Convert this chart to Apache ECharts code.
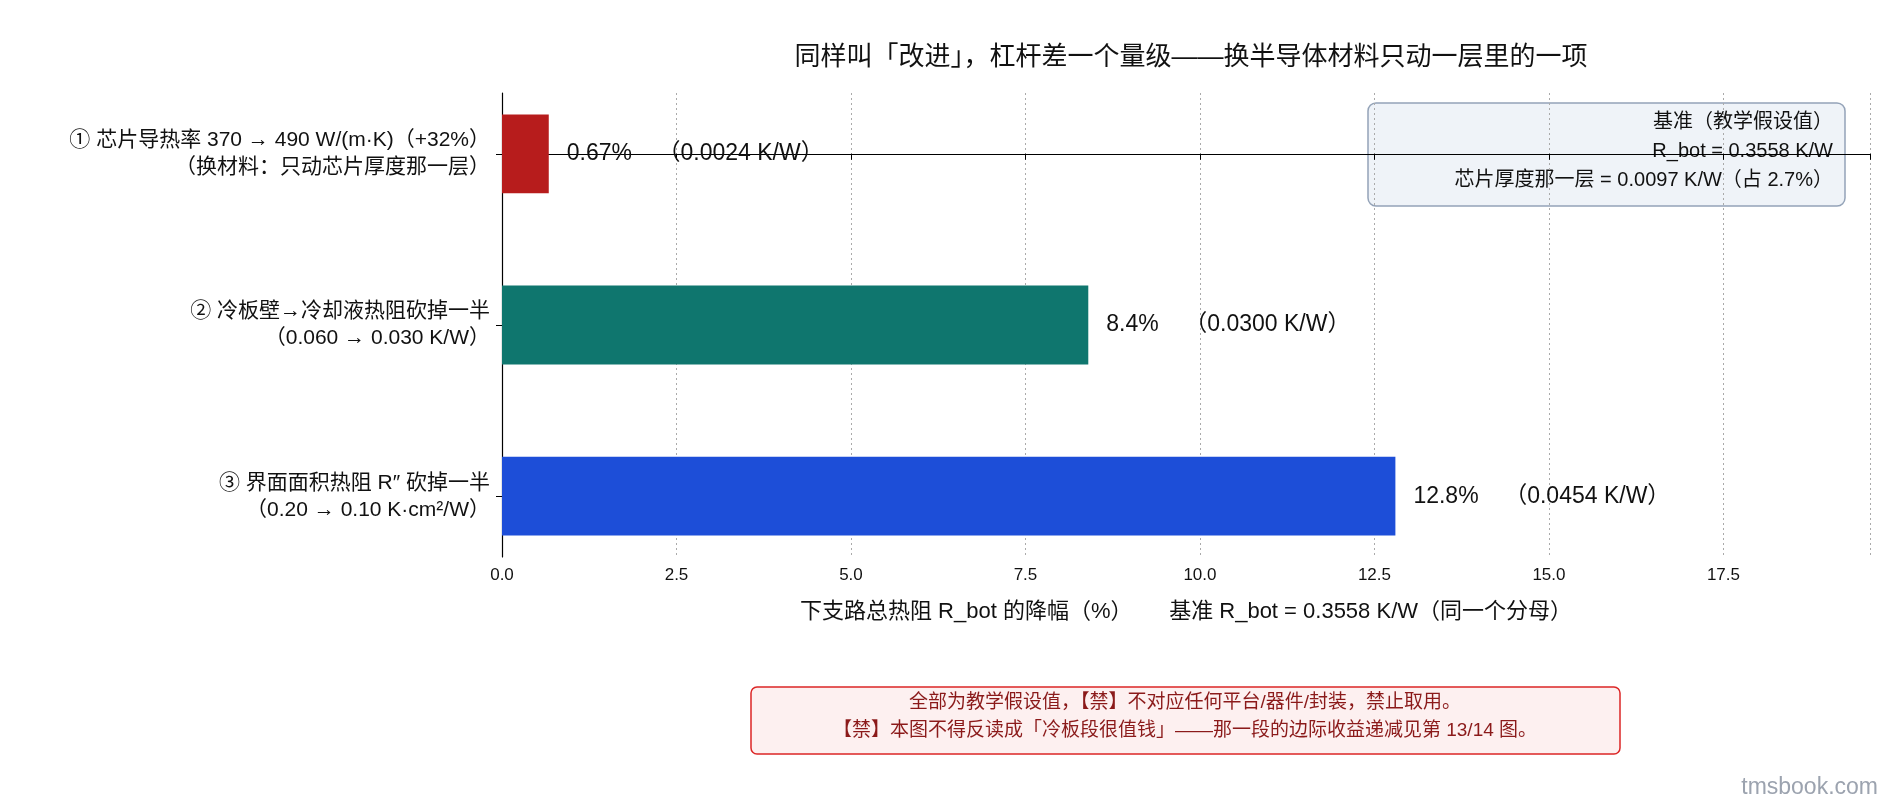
<!DOCTYPE html>
<html>
<head>
<meta charset="utf-8">
<script src="https://cdn.jsdelivr.net/npm/echarts@6/dist/echarts.min.js"></script>
<style>
  html, body { margin: 0; padding: 0; background: #fff; }
  #chart { width: 1890px; height: 810px; }
</style>
</head>
<body>
<div id="chart"></div>
<script>
  var categories = [
    '① 芯片导热率 370 → 490 W/(m·K)（+32%）\n（换材料：只动芯片厚度那一层）',
    '② 冷板壁→冷却液热阻砍掉一半\n（0.060 → 0.030 K/W）',
    '③ 界面面积热阻 R″ 砍掉一半\n（0.20 → 0.10 K·cm²/W）'
  ];
  var pctValues = [0.67, 8.4, 12.8];
  var pctLabels = ['0.67%', '8.4%', '12.8%'];
  var kwLabels = ['（0.0024 K/W）', '（0.0300 K/W）', '（0.0454 K/W）'];
  var barColors = ['#b71c1c', '#0f766e', '#1d4ed8'];
  var catIndex = [0, 1, 2];

  var font = '"Liberation Sans", Arial, "Noto Sans CJK SC", sans-serif';
  var myChart = echarts.init(document.getElementById('chart'));

  function renderBar(params, api) {
    var i = api.value(1);
    var start = api.coord([0, i]);
    var end = api.coord([api.value(0), i]);
    var h = api.size([0, 0.46])[1];
    return {
      type: 'group',
      children: [
        {
          type: 'rect',
          shape: { x: start[0], y: start[1] - h / 2, width: end[0] - start[0], height: h },
          style: { fill: barColors[i] }
        },
        {
          type: 'text',
          x: end[0] + 18, y: end[1],
          style: {
            text: pctLabels[i] + '    ' + kwLabels[i],
            fontSize: 23, fill: '#111', fontFamily: font,
            align: 'left', verticalAlign: 'middle'
          }
        }
      ]
    };
  }

  var option = {
    animation: false,
    textStyle: { fontFamily: font },
    title: {
      text: '同样叫「改进」，杠杆差一个量级——换半导体材料只动一层里的一项',
      left: 1186, top: 40, textAlign: 'center',
      textStyle: { fontSize: 26, fontWeight: 'normal', color: '#111', fontFamily: font }
    },
    grid: { left: 502, right: 20, top: 93, height: 464 },
    xAxis: {
      type: 'value', min: 0, max: 19.6, interval: 2.5,
      axisLine: { show: true, lineStyle: { color: '#000', width: 1.2 } },
      axisTick: { show: true, length: 6, lineStyle: { color: '#000' } },
      axisLabel: {
        fontSize: 17, color: '#111', margin: 10,
        formatter: function (v) { return v > 19 ? '' : v.toFixed(1); }
      },
      splitLine: { show: true, lineStyle: { color: '#aaa', type: [2, 3] } },
      name: '下支路总热阻 R_bot 的降幅（%）      基准 R_bot = 0.3558 K/W（同一个分母）',
      nameLocation: 'middle', nameGap: 44,
      nameTextStyle: { fontSize: 22, color: '#111' }
    },
    yAxis: {
      type: 'value', inverse: true, min: -0.355, max: 2.355,
      axisLine: { show: true, lineStyle: { color: '#000', width: 1.2 } },
      axisTick: { show: true, length: 6, customValues: catIndex, lineStyle: { color: '#000' } },
      axisLabel: {
        customValues: catIndex,
        formatter: function (v) { return categories[Math.round(v)]; },
        fontSize: 21, color: '#111', lineHeight: 27, align: 'right', margin: 12
      },
      splitLine: { show: false }
    },
    series: [{
      type: 'custom',
      renderItem: renderBar,
      encode: { x: 0, y: 1 },
      data: pctValues.map(function (v, i) { return [v, catIndex[i]]; })
    }],
    graphic: [
      {
        type: 'rect', x: 1368, y: 103,
        shape: { width: 477, height: 103, r: 8 },
        style: { fill: '#eff3f8', stroke: '#94a3b8', lineWidth: 1.5 }
      },
      { type: 'text', x: 1833, y: 112, style: { text: '基准（教学假设值）', align: 'right', fontSize: 20, fill: '#111', fontFamily: font } },
      { type: 'text', x: 1833, y: 141, style: { text: 'R_bot = 0.3558 K/W', align: 'right', fontSize: 20, fill: '#111', fontFamily: font } },
      { type: 'text', x: 1833, y: 170, style: { text: '芯片厚度那一层 = 0.0097 K/W（占 2.7%）', align: 'right', fontSize: 20, fill: '#111', fontFamily: font } },
      {
        type: 'rect', x: 751, y: 687,
        shape: { width: 869, height: 67, r: 6 },
        style: { fill: '#fdf0f0', stroke: '#dc2626', lineWidth: 1.5 }
      },
      { type: 'text', x: 1185, y: 693, style: { text: '全部为教学假设值，【禁】不对应任何平台/器件/封装，禁止取用。', align: 'center', fontSize: 19, fill: '#8b1a1a', fontFamily: font } },
      { type: 'text', x: 1185, y: 721, style: { text: '【禁】本图不得反读成「冷板段很值钱」——那一段的边际收益递减见第 13/14 图。', align: 'center', fontSize: 19, fill: '#8b1a1a', fontFamily: font } },
      { type: 'text', x: 1878, y: 776, style: { text: 'tmsbook.com', align: 'right', fontSize: 23, fill: '#9ca3af', fontFamily: font } }
    ]
  };
  myChart.setOption(option);
</script>
</body>
</html>
